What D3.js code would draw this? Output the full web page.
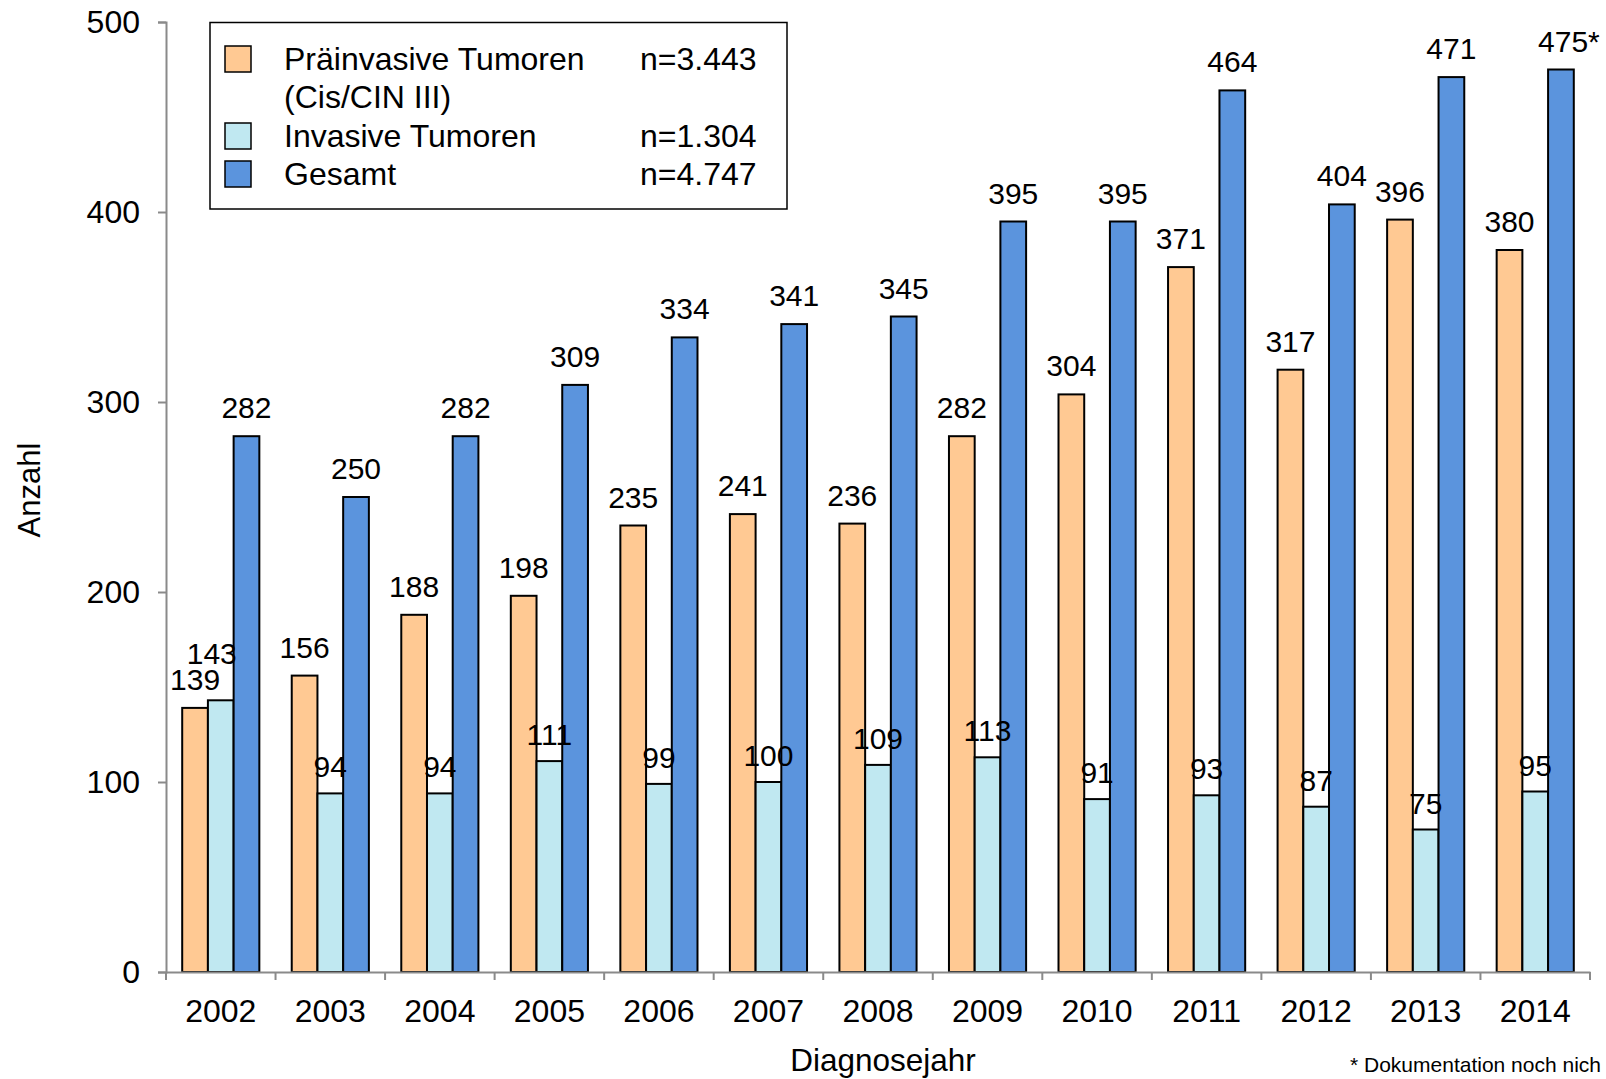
<!DOCTYPE html>
<html><head><meta charset="utf-8">
<script src="https://cdn.jsdelivr.net/npm/d3@7"></script>
<style>
html,body{margin:0;padding:0;background:#fff;}
svg{display:block;font-family:"Liberation Sans",Arial,sans-serif;}
</style></head><body>
<svg id="c" width="1606" height="1079"></svg>
<script>
const years = ["2002","2003","2004","2005","2006","2007","2008","2009","2010","2011","2012","2013","2014"];
const praeinvasiv = [139,156,188,198,235,241,236,282,304,371,317,396,380];
const invasiv = [143,94,94,111,99,100,109,113,91,93,87,75,95];
const gesamt = [282,250,282,309,334,341,345,395,395,464,404,471,475];
const seriesNames = ["Präinvasive Tumoren","Invasive Tumoren","Gesamt"];
const legendLines = [["Präinvasive Tumoren","(Cis/CIN III)"],["Invasive Tumoren"],["Gesamt"]];
const legendCounts = ["n=3.443","n=1.304","n=4.747"];
const yTicks = [0,100,200,300,400,500];
const colors = ["#FFC993","#C0E8F1","#5B94DD"];
const starredYear = "2014";
const xTitle = "Diagnosejahr";
const yTitle = "Anzahl";
const footnote = "* Dokumentation noch nich";

const series = [praeinvasiv, invasiv, gesamt];
const svg = d3.select("#c");
const x = d3.scaleBand().domain(years).range([166,1590]).padding(0);
const x1 = d3.scaleBand().domain([0,1,2]).range([0,x.bandwidth()]).paddingInner(0).paddingOuter(0.63);
const y = d3.scaleLinear().domain([0,500]).range([972,22]);
const axisColor = "#8a8a8a";
const FF = "Liberation Sans, Arial, sans-serif";

// bars
years.forEach((yr,i)=>{
  const g = svg.append("g").attr("transform",`translate(${x(yr)},0)`);
  series.forEach((s,k)=>{
    g.append("rect")
      .attr("x",x1(k)).attr("width",x1.bandwidth())
      .attr("y",y(s[i])).attr("height",y(0)-y(s[i]))
      .attr("fill",colors[k]).attr("stroke","#000").attr("stroke-width",2);
  });
});

// axes
const ya = svg.append("g").attr("transform","translate(166,0)")
  .call(d3.axisLeft(y).tickValues(yTicks).tickSize(8).tickPadding(18));
ya.selectAll("path,line").attr("stroke",axisColor).attr("stroke-width",2);
ya.selectAll("text").attr("font-size",32).attr("fill","#000").attr("font-family",FF);

const xa = svg.append("g").attr("transform","translate(0,972)")
  .call(d3.axisBottom(x).tickSize(0).tickPadding(27).tickSizeOuter(0));
xa.select("path").attr("stroke",axisColor).attr("stroke-width",2);
xa.selectAll("text").attr("font-size",32).attr("fill","#000").attr("font-family",FF);
const bounds = years.map(yr=>x(yr)).concat([x(years[years.length-1])+x.bandwidth()]);
xa.selectAll("line.bt").data(bounds).join("line").attr("class","bt")
  .attr("x1",d=>d).attr("x2",d=>d).attr("y1",0).attr("y2",8)
  .attr("stroke",axisColor).attr("stroke-width",2);

// value labels
const lab = svg.append("g").attr("font-size",30).attr("text-anchor","middle").attr("fill","#000");
years.forEach((yr,i)=>{
  series.forEach((s,k)=>{
    let cx = x(yr)+x1(k)+x1.bandwidth()/2;
    let off = k===1 ? 16 : 18;
    if (k===1 && s[i] > praeinvasiv[i]) { off = 36; cx -= 9; }
    const txt = s[i] + (k===2 && yr===starredYear ? "*" : "");
    lab.append("text").attr("x",cx + (txt.endsWith("*")?8:0)).attr("y",y(s[i])-off).text(txt);
  });
});

// titles
svg.append("text").attr("x",883).attr("y",1071).attr("text-anchor","middle")
  .attr("font-size",31.5).text(xTitle);
svg.append("text").attr("transform","translate(40,490) rotate(-90)").attr("text-anchor","middle")
  .attr("font-size",31).text(yTitle);

// legend
const lg = svg.append("g");
lg.append("rect").attr("x",210).attr("y",22.5).attr("width",577).attr("height",186.5)
  .attr("fill","#fff").attr("stroke","#000").attr("stroke-width",1.5);
const rowY = [59,136,174];
seriesNames.forEach((n,k)=>{
  lg.append("rect").attr("x",225).attr("y",rowY[k]-13).attr("width",26).attr("height",26)
    .attr("fill",colors[k]).attr("stroke","#000").attr("stroke-width",1.5);
  legendLines[k].forEach((ln,j)=>{
    lg.append("text").attr("x",284).attr("y",rowY[k]+11+j*38).attr("font-size",32).text(ln);
  });
  lg.append("text").attr("x",640).attr("y",rowY[k]+11).attr("font-size",32).text(legendCounts[k]);
});

// footnote
svg.append("text").attr("x",1350).attr("y",1072).attr("font-size",21).text(footnote);
</script>
</body></html>
